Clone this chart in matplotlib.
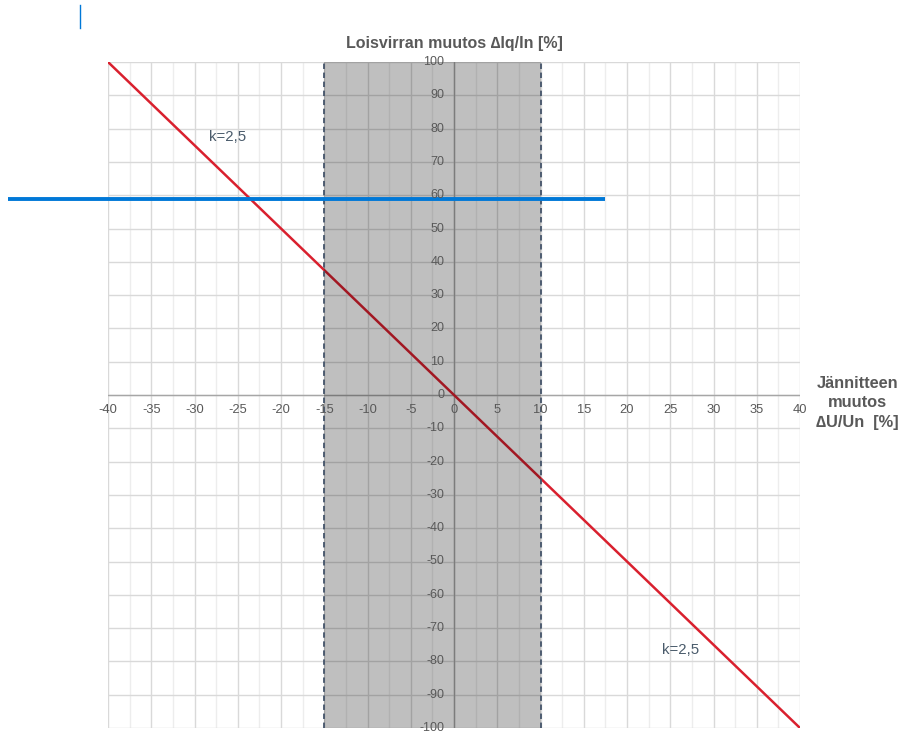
import matplotlib
matplotlib.use("Agg")
import matplotlib.pyplot as plt
from matplotlib.lines import Line2D
import numpy as np

plt.rcParams['font.family'] = ['Liberation Sans', 'DejaVu Sans']

# ---- data ----
x_line = [-40, 40]          # k=2,5 line end points (dU/Un %)
y_line = [100, -100]        # corresponding dIq/In %
band_left, band_right = -15, 10
blue_level = 59
blue_x = [-51.6, 17.5]
x_ticks = list(range(-40, 45, 5))
y_ticks = list(range(-100, 110, 10))
x_minor = list(np.arange(-40, 40.1, 2.5))
k_labels = [("k=2,5", -26.2, 77.5), ("k=2,5", 26.2, -76.5)]
title = "Loisvirran muutos \u2206Iq/In [%]"
xlabel = "Jännitteen\nmuutos\n\u2206U/Un  [%]"

fig = plt.figure(figsize=(9.02, 7.40), dpi=100)
ax = fig.add_axes([108/902, 1-728/740, (800-108)/902, (728-62)/740])
ax.set_xlim(-40, 40)
ax.set_ylim(-100, 100)

# grid
for xv in x_minor:
    major = (xv % 5 == 0)
    ax.axvline(xv, color='#d9d9d9' if major else '#ededed', lw=1.0, zorder=0)
for yv in y_ticks:
    ax.axhline(yv, color='#d9d9d9', lw=1.0, zorder=0)

for s in ax.spines.values():
    s.set_visible(False)
ax.set_xticks([]); ax.set_yticks([])

# zero axes
ax.axhline(0, color='#a6a6a6', lw=1.0, zorder=1)
ax.axvline(0, color='#a6a6a6', lw=1.0, zorder=1)

# red line
ax.plot(x_line, y_line, color='#d9202e', lw=1.8, zorder=2)

# shaded band
ax.axvspan(band_left, band_right, color='black', alpha=0.25, lw=0, zorder=3)
for xv in (band_left, band_right):
    ax.axvline(xv, color='#44546a', lw=1.3, ls=(0, (3, 2)), zorder=4)

# blue line
ax.plot(blue_x, [blue_level, blue_level], color='#0078d7', lw=2.8,
        clip_on=False, zorder=5, solid_capstyle='butt')

# tick labels
for xv in x_ticks:
    ax.text(xv, -4.6, f"{xv}", ha='center', va='center', fontsize=9.3,
            color='#595959', zorder=6)
for yv in y_ticks:
    ax.text(-1.1, yv, f"{yv}", ha='right', va='center', fontsize=9.0,
            color='#595959', zorder=6)

for txt, xv, yv in k_labels:
    ax.text(xv, yv, txt, ha='center', va='center', fontsize=10.8,
            color='#4a5b6b', zorder=6)

ax.text(0, 105.5, title, ha='center', va='center', fontsize=11.5,
        fontweight='bold', color='#595959')
ax.text(46.6, -2.3, xlabel, ha='center', va='center', fontsize=11.8,
        fontweight='bold', color='#595959', linespacing=1.38)

# small cursor mark
fig.add_artist(Line2D([80/902, 80/902], [1-5/740, 1-28/740],
                      color='#0078d7', lw=1.0))

fig.savefig("out.png", dpi=100)
